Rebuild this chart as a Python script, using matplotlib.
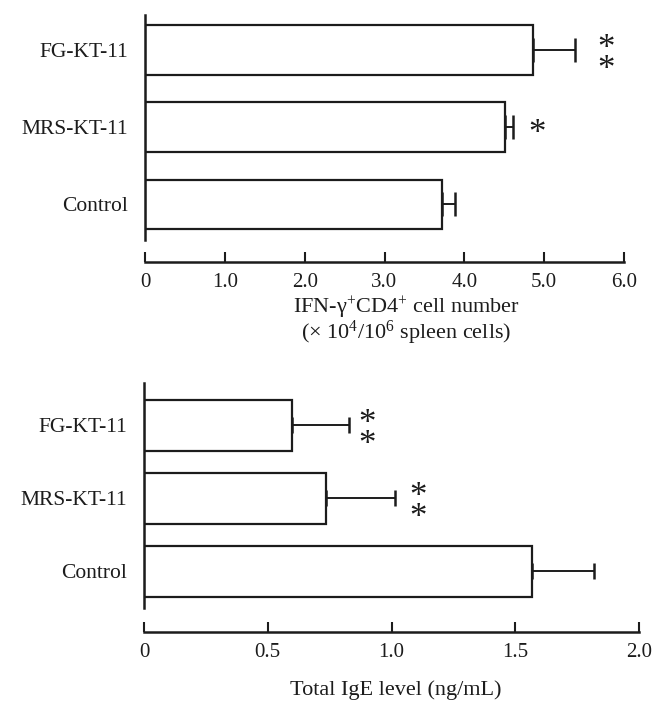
import matplotlib
matplotlib.use("Agg")
import matplotlib.pyplot as plt
import numpy as np

plt.rcParams['font.family'] = ['Liberation Serif', 'DejaVu Serif']
plt.rcParams['mathtext.fontset'] = 'custom'
plt.rcParams['mathtext.rm'] = 'Liberation Serif'
plt.rcParams['mathtext.it'] = 'Liberation Serif:italic'
plt.rcParams['mathtext.bf'] = 'Liberation Serif:bold'

categories = ["Control", "MRS-KT-11", "FG-KT-11"]

ifn_values = [3.72, 4.51, 4.86]
ifn_errors = [0.16, 0.10, 0.52]
ifn_stars = [0, 1, 2]
ifn_ticks = [0, 1, 2, 3, 4, 5, 6]
ifn_ticklabels = ["0", "1.0", "2.0", "3.0", "4.0", "5.0", "6.0"]
ifn_label = "IFN-γ$^{+}$CD4$^{+}$ cell number\n(× 10$^{4}$/10$^{6}$ spleen cells)"

ige_values = [1.568, 0.734, 0.597]
ige_errors = [0.249, 0.280, 0.231]
ige_stars = [0, 2, 2]
ige_ticks = [0, 0.5, 1.0, 1.5, 2.0]
ige_ticklabels = ["0", "0.5", "1.0", "1.5", "2.0"]
ige_label = "Total IgE level (ng/mL)"

DARK = '#1c1c1c'
W, H = 656, 702
fig = plt.figure(figsize=(W / 100, H / 100), dpi=100)
PX = 72 / 100  # points per pixel


def make_ax(left_px, right_px, top_px, bot_px):
    return fig.add_axes([left_px / W, 1 - bot_px / H, (right_px - left_px) / W, (bot_px - top_px) / H])


ax1 = make_ax(145, 624, 15, 240)
ax2 = make_ax(144, 639, 383, 608)


def draw(ax, values, errors, stars, star_dx_px, ticks, ticklabels, xmax, ylim, bar_h,
         capsize, spine_out_px):
    pos = np.arange(len(categories))
    for side in ['top', 'right']:
        ax.spines[side].set_visible(False)
    ax.spines['bottom'].set_position(('outward', spine_out_px * PX))
    ax.spines['left'].set_linewidth(1.8)
    ax.spines['bottom'].set_linewidth(1.8)
    ax.spines['left'].set_color(DARK)
    ax.spines['bottom'].set_color(DARK)
    ax.patch.set_visible(False)

    ax.barh(pos, values, height=bar_h, color='white', edgecolor=DARK, linewidth=1.6, zorder=2)
    ax.errorbar(values, pos, xerr=[np.zeros(len(errors)), errors], fmt='none',
                ecolor=DARK, elinewidth=1.4, capsize=capsize, capthick=1.8, zorder=1)
    for p, v, e, n, dx in zip(pos, values, errors, stars, star_dx_px):
        if n == 0:
            continue
        if n == 1:
            ax.annotate("*", xy=(v + e, p), xytext=(dx * PX, -16 * PX),
                        textcoords='offset points', ha='center', va='baseline',
                        fontsize=25, annotation_clip=False, color=DARK)
        else:
            ax.annotate("\n".join(["*"] * n), xy=(v + e, p), xytext=(dx * PX, -10 * PX),
                        textcoords='offset points', ha='center', va='center',
                        fontsize=25, linespacing=0.52, annotation_clip=False, color=DARK)

    ax.set_xlim(0, xmax)
    ax.set_ylim(*ylim)
    ax.set_yticks(pos)
    ax.set_yticklabels(categories)
    ax.tick_params(axis='y', length=0, pad=12, labelsize=15.5, labelcolor=DARK)
    ax.set_xticks(ticks)
    ax.set_xticklabels(ticklabels)
    ax.tick_params(axis='x', direction='in', length=7.2, width=1.5, pad=8,
                   labelsize=15, color=DARK, labelcolor=DARK)


draw(ax1, ifn_values, ifn_errors, ifn_stars, [0, 24, 31], ifn_ticks, ifn_ticklabels, 6.0,
     (-0.46, 2.45), 0.64, 8.5, 22)
draw(ax2, ige_values, ige_errors, ige_stars, [0, 23, 18], ige_ticks, ige_ticklabels, 2.0,
     (-0.50, 2.58), 0.70, 6, 24)

fig.text(406 / W, 1 - 321 / H, ifn_label, ha='center', va='center', multialignment='center',
         linespacing=0.85, fontsize=16, color=DARK)
fig.text(396 / W, 1 - 690 / H, ige_label, ha='center', va='center',
         fontsize=16, color=DARK)

fig.savefig("out.png", dpi=100)
